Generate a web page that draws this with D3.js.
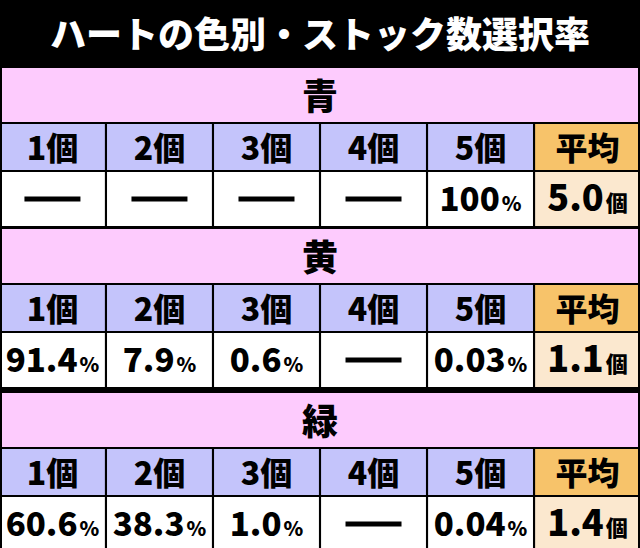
<!DOCTYPE html><html><head><meta charset="utf-8"><script src="https://cdn.jsdelivr.net/npm/d3@7"></script>
<style>body{margin:0;background:#fff}</style></head><body><svg id="c" width="640" height="548"></svg>
<script>
const title="ハートの色別・ストック数選択率";
const sections=["青","黄","緑"];
const headers=["1個","2個","3個","4個","5個","平均"];
const values=[
 [null,null,null,null,"100","5.0"],
 ["91.4","7.9","0.6",null,"0.03","1.1"],
 ["60.6","38.3","1.0",null,"0.04","1.4"]
];
const svg=d3.select("#c");
const F="'Noto Sans CJK JP','Noto Sans',sans-serif";
svg.append("rect").attr("width",640).attr("height",548).attr("fill","#000");
svg.append("text").attr("x",320).attr("y",48).attr("text-anchor","middle").attr("fill","#fff")
 .attr("font-family",F).attr("font-weight",900).attr("font-size",36).text(title);
const x=d3.scaleBand().domain(d3.range(6)).range([0,640]).paddingInner(0.02);
const secTop=[68,229,393], secH=[54,54,54], rowH=[46,54];
sections.forEach((s,i)=>{
 const g=svg.append("g");
 const y0=secTop[i];
 g.append("rect").attr("x",2).attr("y",y0).attr("width",636).attr("height",secH[i]).attr("fill","#fdcbfd");
 g.append("text").attr("x",320).attr("y",y0+42).attr("text-anchor","middle").attr("font-family",F)
  .attr("font-weight",900).attr("font-size",36).text(s);
 const y1=y0+secH[i]+2, y2=y1+rowH[0]+2;
 const h2=i==2?548-y2:rowH[1];
 headers.forEach((h,j)=>{
  g.append("rect").attr("x",x(j)+(j==0?2:0)).attr("y",y1).attr("width",x.bandwidth()-(j==0||j==5?2:0)).attr("height",rowH[0])
   .attr("fill",j==5?"#f7c36a":"#c4c4fb");
  g.append("text").attr("x",x(j)+x.bandwidth()/2).attr("y",y1+36).attr("text-anchor","middle")
   .attr("font-family",F).attr("font-weight",900).attr("font-size",32).text(h);
  g.append("rect").attr("x",x(j)+(j==0?2:0)).attr("y",y2).attr("width",x.bandwidth()-(j==0||j==5?2:0)).attr("height",h2)
   .attr("fill",j==5?"#fbe8cf":"#fff");
  const v=values[i][j];
  if(v==null){
   g.append("line").attr("x1",x(j)+x.bandwidth()/2-28).attr("x2",x(j)+x.bandwidth()/2+28)
    .attr("y1",y2+27).attr("y2",y2+27).attr("stroke","#000").attr("stroke-width",5);
  } else {
   const t=g.append("text").attr("x",x(j)+x.bandwidth()/2).attr("y",y2+39).attr("text-anchor","middle")
    .attr("font-family",F).attr("font-weight",900);
   t.append("tspan").attr("font-size",j==5?36:33).text(v);
   t.append("tspan").attr("font-size",j==5?22:20).attr("dx",2).text(j==5?"個":"%");
  }
 });
});
</script></body></html>
